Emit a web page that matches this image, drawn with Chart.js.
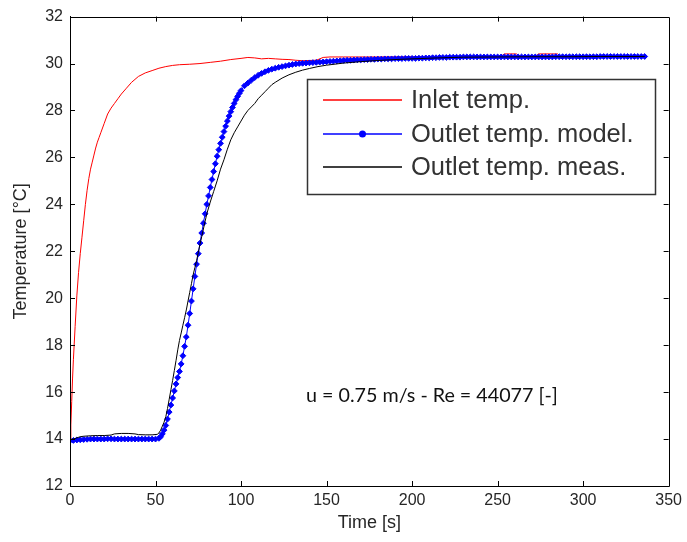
<!DOCTYPE html>
<html><head><meta charset="utf-8">
<script src="https://cdn.jsdelivr.net/npm/chart.js@4"></script>
<style>html,body{margin:0;padding:0;background:#fff}#wrap{width:687px;height:542px}</style>
</head><body><div id="wrap"><canvas id="c" width="687" height="542"></canvas></div>
<script>
const xTicks = [0, 50, 100, 150, 200, 250, 300, 350];
const yTicks = [12, 14, 16, 18, 20, 22, 24, 26, 28, 30, 32];
const seriesNames = ["Inlet temp.", "Outlet temp. model.", "Outlet temp. meas."];
const annotationText = "u = 0.75 m/s - Re = 44077 [-]";

const tInlet = [0,0.5,1,1.5,2,3,4,5,6,7,8,9,10,11,12,13,14,15,16,17,18,20,22,24,26,28,30,33,36,40,44,48,52,56,60,64,70,76,82,88,94,100,104,108,112,116,120,124,128,132,136,140,144,148,152,160,180,200,220,240,252,254,261,263,272,274,285,287,300,320,335];
const vInlet = [14.0,14.6,15.6,16.6,17.4,18.8,20.1,21.1,21.9,22.6,23.3,24.0,24.6,25.1,25.5,25.8,26.1,26.4,26.65,26.85,27.05,27.45,27.85,28.1,28.3,28.5,28.7,28.95,29.2,29.45,29.6,29.7,29.8,29.87,29.92,29.95,29.97,30.0,30.05,30.1,30.17,30.22,30.26,30.24,30.2,30.22,30.2,30.18,30.17,30.14,30.12,30.13,30.14,30.26,30.28,30.28,30.28,30.29,30.29,30.3,30.31,30.41,30.41,30.31,30.31,30.41,30.41,30.31,30.32,30.32,30.33];

const tModel = [0,2,4,6,8,10,12,14,16,18,20,22,24,26,28,30,32,34,36,38,40,42,44,46,48,50,52,
53,54,55,56,57,58,59,60,61,62,63,64,65,66,67,68,69,70,71,72,73,74,75,76,77,78,79,80,81,82,83,84,85,86,87,88,89,90,91,92,93,94,95,96,97,98,99,100,
102,104,106,108,110,112,114,116,118,120,122,124,126,128,130,132,134,136,138,140,142,144,146,148,150,152,154,156,158,160,162,164,166,168,170,172,174,176,178,180,182,184,186,188,190,192,194,196,198,200,
202,204,206,208,210,212,214,216,218,220,222,224,226,228,230,232,234,236,238,240,242,244,246,248,250,252,254,256,258,260,262,264,266,268,270,272,274,276,278,280,282,284,286,288,290,292,294,296,298,300,302,304,306,308,310,312,314,316,318,320,322,324,326,328,330,332,334,336];
const vModel = [13.93,13.94,13.96,13.97,13.98,13.99,14.0,14.0,14.0,14.0,14.0,14.01,14.01,14.0,14.0,14.0,14.0,14.0,14.0,14.0,14.0,14.0,14.0,14.0,14.0,14.0,14.03,
14.1,14.22,14.38,14.58,14.85,15.15,15.45,15.75,16.05,16.35,16.62,16.88,17.2,17.55,17.95,18.35,18.85,19.35,19.88,20.4,20.93,21.45,21.9,22.35,22.78,23.2,23.6,24.0,24.36,24.72,25.06,25.4,25.73,26.05,26.33,26.6,26.86,27.1,27.33,27.55,27.76,27.95,28.13,28.3,28.46,28.6,28.73,28.85,
29.05,29.17,29.29,29.4,29.5,29.58,29.65,29.71,29.76,29.8,29.84,29.87,29.9,29.93,29.96,29.98,30.0,30.01,30.02,30.03,30.04,30.05,30.06,30.07,30.08,30.09,30.1,30.11,30.12,30.13,30.14,30.14,30.15,30.16,30.16,30.17,30.17,30.18,30.18,30.19,30.19,30.2,30.2,30.2,30.21,30.21,30.21,30.22,30.22,30.22,
30.22,30.23,30.23,30.24,30.24,30.25,30.25,30.26,30.26,30.26,30.27,30.27,30.27,30.27,30.28,30.28,30.28,30.28,30.28,30.28,30.28,30.28,30.28,30.28,30.28,30.28,30.28,30.28,30.28,30.28,30.28,30.28,30.28,30.28,30.28,30.28,30.28,30.28,30.28,30.28,30.28,30.29,30.29,30.29,30.29,30.29,30.29,30.29,30.29,30.29,30.29,30.29,30.29,30.29,30.3,30.3,30.3,30.3,30.3,30.3,30.3,30.3,30.3,30.3,30.3,30.3,30.3,30.3,30.3,30.3,30.3,30.3];

const tMeas = [0,2,4,6,8,12,16,20,24,26,30,34,38,40,44,48,51,52,53,54,55,56,57,58,59,60,61,62,63,64,65,66,67,68,69,70,71,72,73,74,75,76,77,78,79,80,82,84,86,88,90,92,94,96,98,100,102,104,106,108,110,112,114,116,118,120,124,128,132,136,140,145,150,160,170,180,190,200,215,230,250,270,290,310,336];
const vMeas = [13.98,14.0,14.05,14.1,14.12,14.14,14.15,14.15,14.17,14.22,14.24,14.24,14.22,14.19,14.18,14.18,14.2,14.26,14.38,14.55,14.72,14.95,15.3,15.7,16.1,16.5,16.92,17.35,17.8,18.2,18.52,18.85,19.17,19.5,19.88,20.25,20.62,21.0,21.3,21.6,21.95,22.3,22.62,22.95,23.28,23.6,24.1,24.55,25.0,25.5,25.9,26.35,26.75,27.05,27.3,27.55,27.8,28.0,28.15,28.3,28.5,28.65,28.8,28.95,29.1,29.2,29.38,29.52,29.63,29.72,29.79,29.87,29.93,30.02,30.08,30.13,30.17,30.2,30.24,30.27,30.28,30.29,30.29,30.3,30.3];

const pts = (ts, vs) => ts.map((t, i) => ({x: t, y: vs[i]}));
const TXT = '#262626';

const framePlugin = {
  id: 'frame',
  afterDraw(chart) {
    const {ctx, chartArea: a, scales} = chart;
    const xs = scales.x, ys = scales.y;
    ctx.save();
    ctx.strokeStyle = '#000';
    ctx.lineWidth = 1;
    ctx.beginPath();
    ctx.rect(Math.round(a.left) + 0.5, Math.round(a.top) + 0.5, Math.round(a.right - a.left), Math.round(a.bottom - a.top));
    ctx.stroke();
    const L = 5;
    ctx.beginPath();
    xTicks.forEach(v => {
      if (v === xs.min || v === xs.max) return;
      const px = Math.round(xs.getPixelForValue(v)) + 0.5;
      ctx.moveTo(px, a.bottom); ctx.lineTo(px, a.bottom - L);
      ctx.moveTo(px, a.top); ctx.lineTo(px, a.top + L);
    });
    yTicks.forEach(v => {
      if (v === ys.min || v === ys.max) return;
      const py = Math.round(ys.getPixelForValue(v)) + 0.5;
      ctx.moveTo(a.left, py); ctx.lineTo(a.left + L, py);
      ctx.moveTo(a.right, py); ctx.lineTo(a.right - L, py);
    });
    ctx.stroke();

    // annotation
    ctx.fillStyle = '#111';
    ctx.font = '19.7px Lato, "Open Sans", sans-serif';
    ctx.textBaseline = 'middle';
    ctx.textAlign = 'left';
    ctx.fillText(annotationText, xs.getPixelForValue(138), ys.getPixelForValue(15.85));

    // legend
    const lx = 307, ly = 79, lw = 348, lh = 115;
    ctx.fillStyle = '#fff';
    ctx.fillRect(lx, ly, lw, lh);
    ctx.strokeStyle = '#333';
    ctx.lineWidth = 1.5;
    ctx.strokeRect(lx + 0.5, ly + 0.5, lw, lh);
    const rows = [100, 134, 167];
    const cols = ['#ff0000', '#0000ff', '#000000'];
    ctx.font = '25.5px "Liberation Sans", Arial, sans-serif';
    rows.forEach((ry, i) => {
      ctx.strokeStyle = cols[i];
      ctx.lineWidth = 1.5;
      ctx.beginPath();
      ctx.moveTo(323, ry); ctx.lineTo(402, ry);
      ctx.stroke();
      if (i === 1) {
        ctx.fillStyle = cols[i];
        ctx.beginPath(); ctx.arc(362.5, ry, 3.5, 0, Math.PI * 2); ctx.fill();
      }
      ctx.fillStyle = '#333';
      ctx.textBaseline = 'middle';
      ctx.fillText(seriesNames[i], 411, ry + 1);
    });
    ctx.restore();
  }
};

new Chart(document.getElementById('c'), {
  type: 'line',
  data: {
    datasets: [
      {label: seriesNames[2], data: pts(tMeas, vMeas), borderColor: '#000', borderWidth: 1, pointRadius: 0, order: 0},
      {label: seriesNames[1], data: pts(tModel, vModel), borderColor: '#0000ff', backgroundColor: '#0000ff', borderWidth: 1,
        pointStyle: 'rectRot', pointRadius: 2.9, pointBorderWidth: 1, pointBorderColor: '#0000ff', pointBackgroundColor: '#0000ff', order: 1},
      {label: seriesNames[0], data: pts(tInlet, vInlet), borderColor: '#ff0000', borderWidth: 1, pointRadius: 0, order: 2}
    ]
  },
  options: {
    responsive: false,
    animation: false,
    events: [],
    layout: {padding: {left: 0, right: 18, top: 13, bottom: 0}},
    plugins: {legend: {display: false}, tooltip: {enabled: false}},
    elements: {line: {tension: 0}},
    scales: {
      x: {
        type: 'linear', min: 0, max: 350,
        afterBuildTicks(s) { s.ticks = xTicks.map(v => ({value: v})); },
        afterFit(s) { s.height = 56; },
        grid: {display: false, drawTicks: false},
        border: {display: true, color: '#000', width: 1},
        ticks: {color: TXT, padding: 5, maxRotation: 0, autoSkip: false, font: {family: '"Liberation Sans", Arial, sans-serif', size: 16}},
        title: {display: true, text: 'Time [s]', color: TXT, padding: {top: 0, bottom: 8}, font: {family: '"Liberation Sans", Arial, sans-serif', size: 18}}
      },
      y: {
        type: 'linear', min: 12, max: 32,
        afterBuildTicks(s) { s.ticks = yTicks.map(v => ({value: v})); },
        afterFit(s) { s.width = 70; },
        grid: {display: false, drawTicks: false},
        border: {display: true, color: '#000', width: 1},
        ticks: {color: TXT, padding: 7, autoSkip: false, font: {family: '"Liberation Sans", Arial, sans-serif', size: 16}},
        title: {display: true, text: 'Temperature [°C]', color: TXT, padding: {top: 10, bottom: 0}, font: {family: '"Liberation Sans", Arial, sans-serif', size: 18}}
      }
    }
  },
  plugins: [framePlugin]
});
</script>
</body></html>
